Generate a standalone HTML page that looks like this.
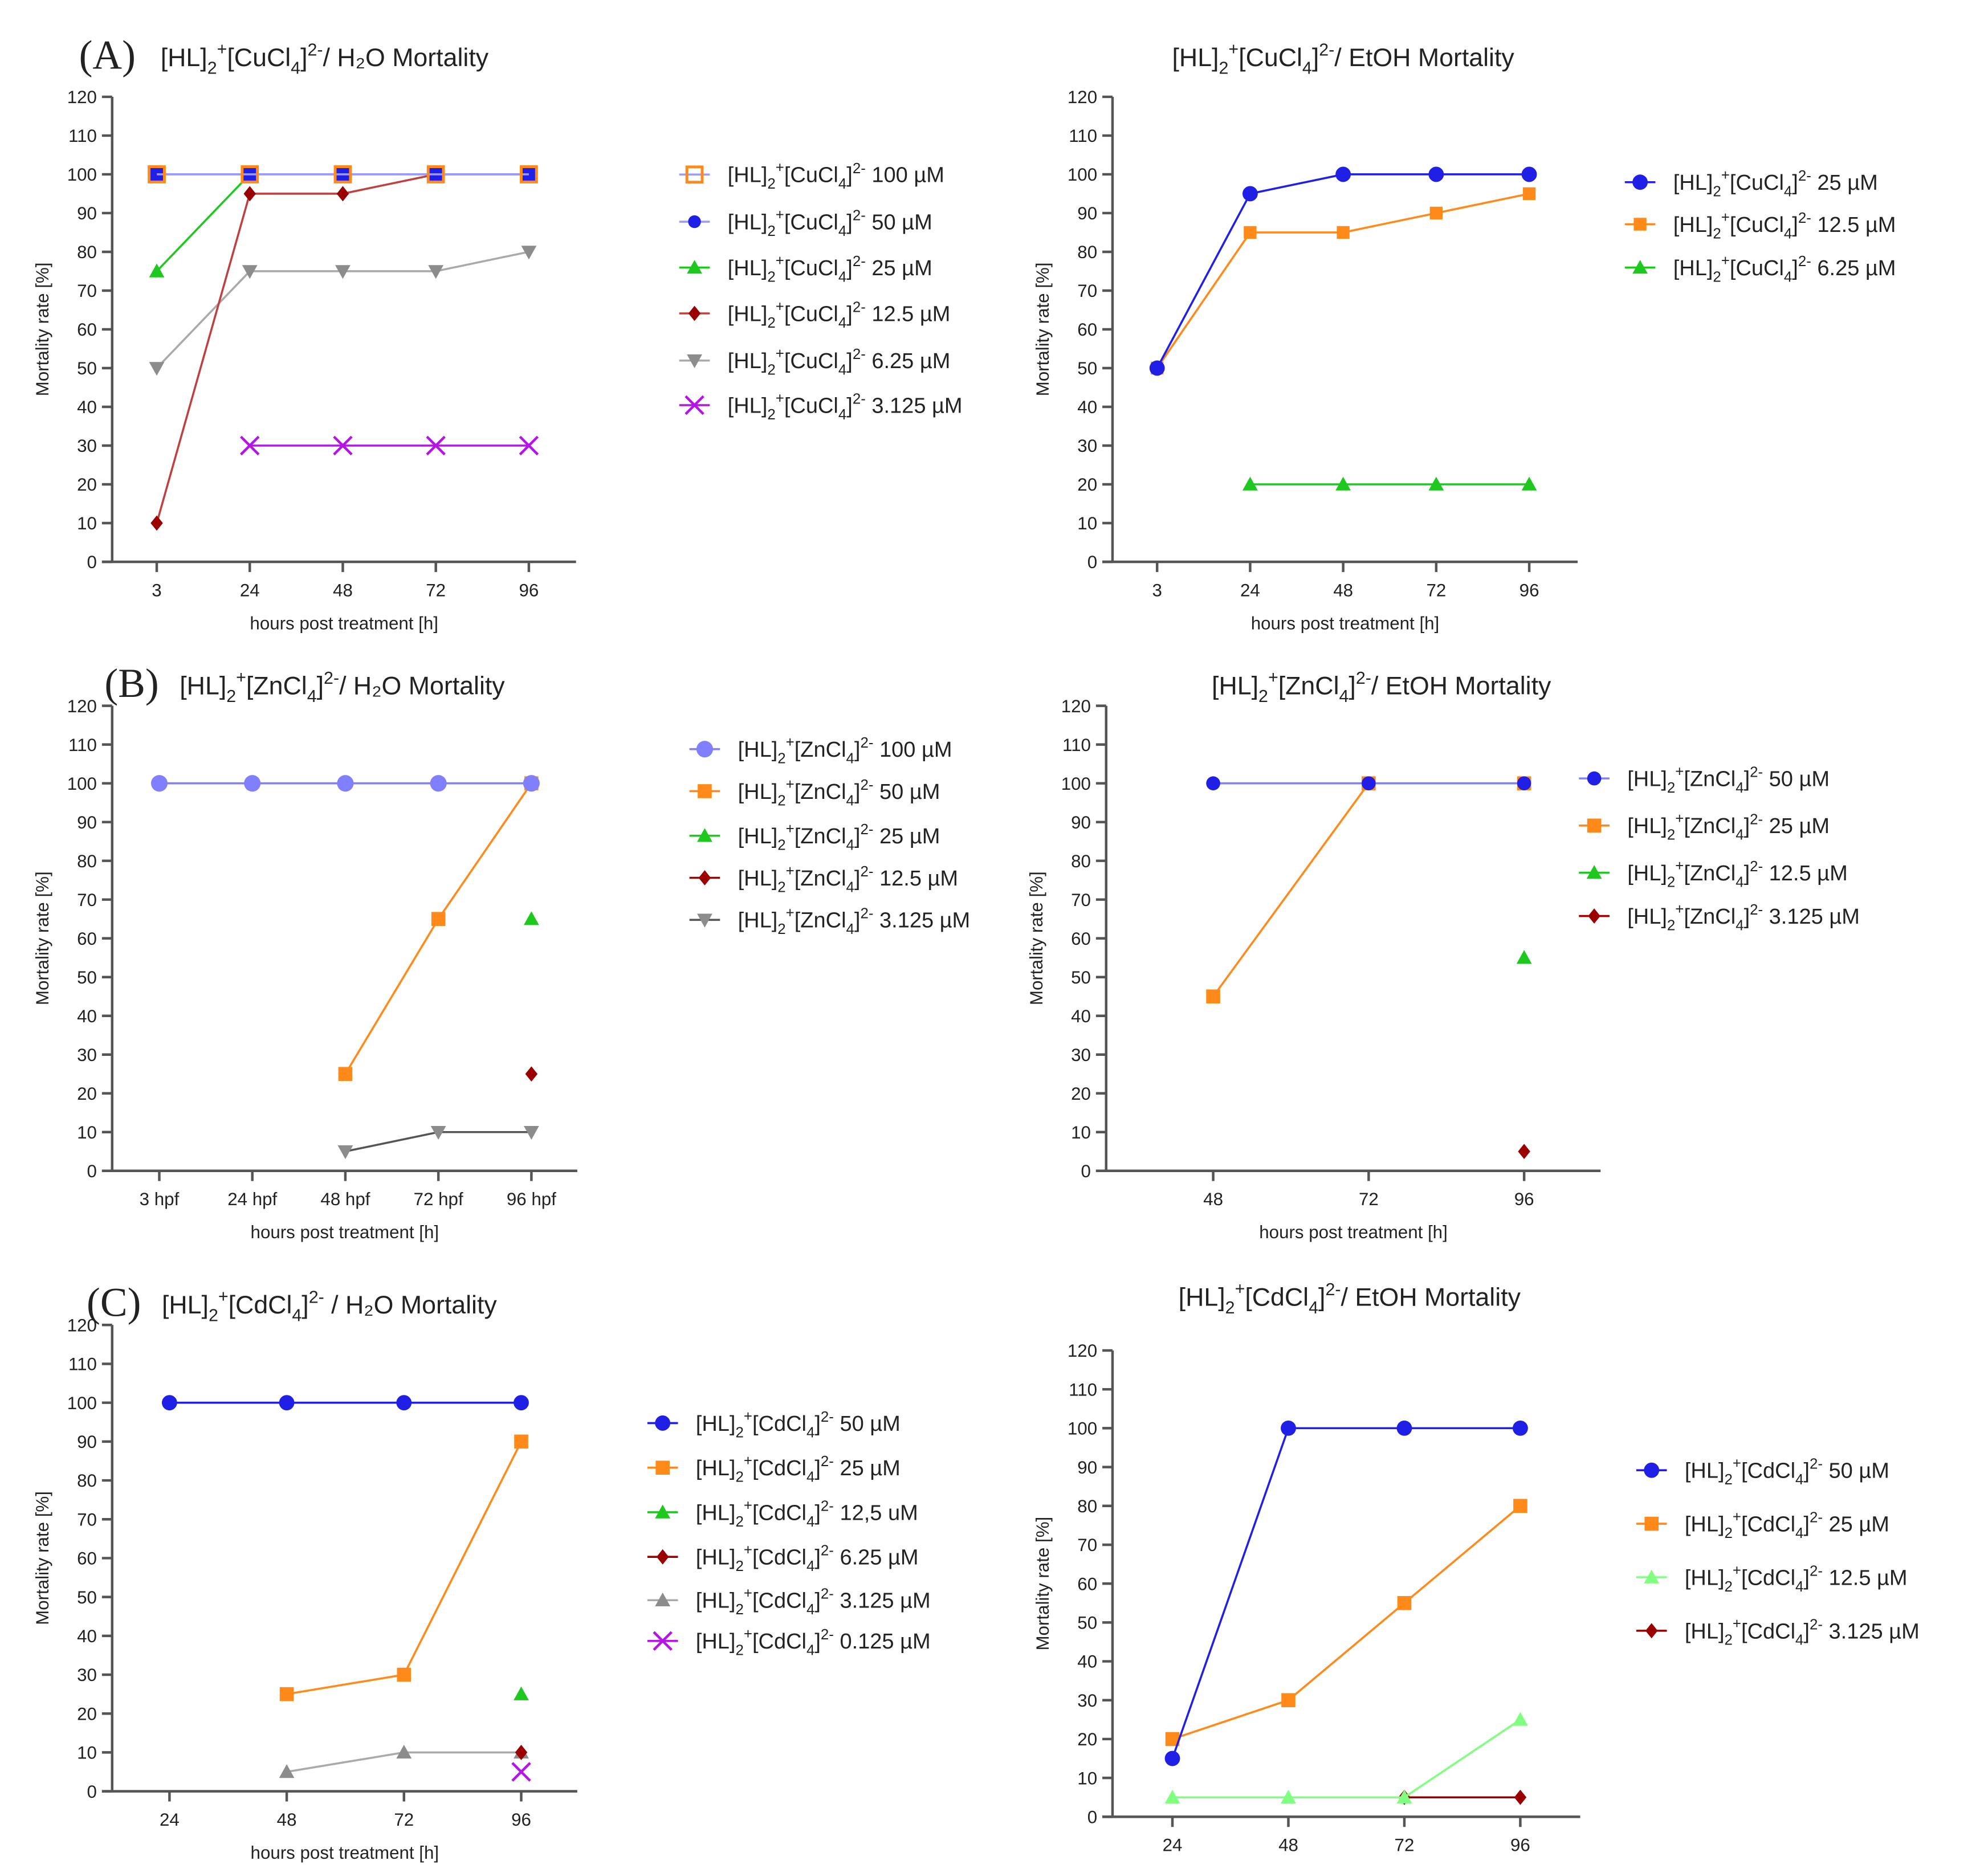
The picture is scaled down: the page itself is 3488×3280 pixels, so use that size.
<!DOCTYPE html>
<html><head><meta charset="utf-8"><style>
html,body{margin:0;padding:0;background:#fff}
svg{display:block}
text{fill:#222}
</style></head><body>
<svg id="fig" width="3488" height="3280" viewBox="0 0 1560 1467" preserveAspectRatio="none" xmlns="http://www.w3.org/2000/svg" font-family="Liberation Sans, sans-serif"></svg>
<script>
// ---- data arrays ----
const aL_cats=["3","24","48","72","96"];
const aL_100=[100,100,100,100,100];
const aL_50=[100,100,100,100,100];
const aL_25=[75,100,null,null,null];
const aL_12=[10,95,95,100,100];
const aL_6=[50,75,75,75,80];
const aL_3=[null,30,30,30,30];

const aR_cats=["3","24","48","72","96"];
const aR_25=[50,95,100,100,100];
const aR_12=[50,85,85,90,95];
const aR_6=[null,20,20,20,20];

const bL_cats=["3 hpf","24 hpf","48 hpf","72 hpf","96 hpf"];
const bL_100=[100,100,100,100,100];
const bL_50=[null,null,25,65,100];
const bL_25=[null,null,null,null,65];
const bL_12=[null,null,null,null,25];
const bL_3=[null,null,5,10,10];

const bR_cats=["48","72","96"];
const bR_50=[100,100,100];
const bR_25=[45,100,100];
const bR_12=[null,null,55];
const bR_3=[null,null,5];

const cL_cats=["24","48","72","96"];
const cL_50=[100,100,100,100];
const cL_25=[null,25,30,90];
const cL_12=[null,null,null,25];
const cL_6=[null,null,null,10];
const cL_3=[null,5,10,10];
const cL_01=[null,null,null,5];

const cR_cats=["24","48","72","96"];
const cR_50=[15,100,100,100];
const cR_25=[20,30,55,80];
const cR_12=[5,5,5,25];
const cR_3=[null,null,5,5];

const yTicks=[0,10,20,30,40,50,60,70,80,90,100,110,120];

const svg=document.getElementById('fig');
const NS='http://www.w3.org/2000/svg';
function el(tag,attrs,parent){const e=document.createElementNS(NS,tag);for(const k in attrs)e.setAttribute(k,attrs[k]);(parent||svg).appendChild(e);return e;}

function formula(parent,x,y,metal,suffix,size,anchor){
  const t=el('text',{x:x,y:y,'font-size':size,'text-anchor':anchor||'start'},parent);
  const s=size*0.68;
  const parts=[["[HL]",0,size],["2",size*0.3,s],["+",-size*0.75,s],["[CuCl".replace("Cu",metal),size*0.45,size],["4",size*0.3,s],["]",-size*0.3,size],["2-",-size*0.42,s],[suffix,size*0.42,size]];
  parts.forEach(p=>{const ts=el('tspan',{dy:p[1],'font-size':p[2]},t);ts.textContent=p[0];});
  return t;
}

function marker(g,type,x,y,color,sz){
  const s=sz||6;
  if(type==='circle')el('circle',{cx:x,cy:y,r:s,fill:color},g);
  else if(type==='square')el('rect',{x:x-s,y:y-s,width:2*s,height:2*s,fill:color},g);
  else if(type==='osquare')el('rect',{x:x-s,y:y-s,width:2*s,height:2*s,fill:'none',stroke:color,'stroke-width':2.2},g);
  else if(type==='tri')el('polygon',{points:`${x},${y-s} ${x-s},${y+s*0.8} ${x+s},${y+s*0.8}`,fill:color},g);
  else if(type==='dtri')el('polygon',{points:`${x},${y+s} ${x-s},${y-s*0.8} ${x+s},${y-s*0.8}`,fill:color},g);
  else if(type==='diamond')el('polygon',{points:`${x},${y-s} ${x+s*0.8},${y} ${x},${y+s} ${x-s*0.8},${y}`,fill:color},g);
  else if(type==='x'){el('line',{x1:x-s,y1:y-s,x2:x+s,y2:y+s,stroke:color,'stroke-width':2},g);el('line',{x1:x-s,y1:y+s,x2:x+s,y2:y-s,stroke:color,'stroke-width':2},g);}
}

function panel(p){
  const g=el('g',{});
  
  
  const yS=v=>p.y0-(v/120)*(p.y0-p.y120);
  const xS=i=>p.xs[0]+i*(p.xs[1]-p.xs[0]);
  const ax=el('g',{stroke:'#555','stroke-width':2},g);
  
  el('line',{x1:p.ax,y1:p.y120,x2:p.ax,y2:p.y0},ax);
  el('line',{x1:p.ax-8,y1:p.y0,x2:p.xend,y2:p.y0},ax);
  yTicks.forEach(v=>{
    el('line',{x1:p.ax-8,y1:yS(v),x2:p.ax,y2:yS(v)},ax);
    const t=el('text',{x:p.ax-12,y:yS(v)+5,'font-size':14,'text-anchor':'end'},g);
    
    t.textContent=v;
  });
  p.cats.forEach((c,i)=>{
    el('line',{x1:xS(i),y1:p.y0,x2:xS(i),y2:p.y0+8},ax);
    const t=el('text',{x:xS(i),y:p.y0+27,'font-size':14,'text-anchor':'middle'},g);
    
    t.textContent=c;
  });
  const yt=el('text',{x:0,y:0,'font-size':14,'text-anchor':'middle',transform:`translate(${p.ax-50},${(p.y0+p.y120)/2}) rotate(-90)`},g);
  
  yt.textContent='Mortality rate [%]';
  if(p.xtitle){
    const xt=el('text',{x:(p.ax+p.xend)/2,y:p.y0+53,'font-size':14,'text-anchor':'middle'},g);
    
    xt.textContent='hours post treatment [h]';
  }
  const tt=formula(g,p.tx,p.ty,p.metal,p.tsuf,20,p.tanchor);
  
  if(p.letter){
    const lt=el('text',{x:p.lx,y:p.ty+2,'font-size':32,style:'font-family:"Liberation Serif",serif'},g);
    
    lt.textContent=p.letter;
  }
  const sgs=p.series.map(()=>null);
  for(let si=p.series.length-1;si>=0;si--){
    const s=p.series[si];
    const sg=el('g',{},g);
    
    
    let pts=[];
    s.data.forEach((v,i)=>{if(v!==null)pts.push([xS(i),yS(v)]);});
    if(pts.length>1){const pl=el('polyline',{points:pts.map(q=>q.join(',')).join(' '),fill:'none',stroke:s.line||s.color,'stroke-width':1.6},sg);}
    pts.forEach(q=>marker(sg,s.pm||s.m,q[0],q[1],s.color,s.sz));
  }
  p.series.forEach((s,si)=>{
    const ly=p.leg.ys[si];
    const lg=el('g',{},g);
    
    
    el('line',{x1:p.leg.x-12,y1:ly,x2:p.leg.x+12,y2:ly,stroke:s.line||s.color,'stroke-width':1.6},lg);
    marker(lg,s.m,p.leg.x,ly,s.color,s.sz);
    formula(lg,p.leg.x+26,ly+6,p.metal,' '+s.label,17);
  });
}

const BL='#1f1fe6',OR='#ff8a1a',GR='#1ec81e',DR='#9b0000',GY='#8c8c8c',PU='#b414e6';
const yA=[137,174,210,246,283,318];
panel({name:'panel-a-h2o',cats:aL_cats,ax:88,xend:452,xs:[123,196],y0:441,y120:76,xtitle:true,metal:'Cu',tsuf:'/ H₂O Mortality',tx:126,ty:52,letter:'(A)',lx:62,
  leg:{x:545,ys:yA},series:[
  {label:'100 µM',data:aL_100,color:OR,m:'osquare',line:'#9a9aff',sz:6},
  {label:'50 µM',data:aL_50,color:BL,m:'circle',pm:'square',line:'#9a9aff',sz:5},
  {label:'25 µM',data:aL_25,color:GR,m:'tri',sz:6},
  {label:'12.5 µM',data:aL_12,color:DR,m:'diamond',line:'#c04040',sz:6},
  {label:'6.25 µM',data:aL_6,color:GY,m:'dtri',line:'#aaa',sz:6},
  {label:'3.125 µM',data:aL_3,color:PU,m:'x',sz:7}]});
panel({name:'panel-a-etoh',cats:aR_cats,ax:873,xend:1238,xs:[908,981],y0:441,y120:76,xtitle:true,metal:'Cu',tsuf:'/ EtOH Mortality',tx:1054,ty:52,tanchor:'middle',
  leg:{x:1287,ys:[143,176,210]},series:[
  {label:'25 µM',data:aR_25,color:BL,m:'circle',sz:6},
  {label:'12.5 µM',data:aR_12,color:OR,m:'square',sz:5},
  {label:'6.25 µM',data:aR_6,color:GR,m:'tri',sz:6}]});
panel({name:'panel-b-h2o',cats:bL_cats,ax:88,xend:453,xs:[125,198],y0:919,y120:554,xtitle:true,metal:'Zn',tsuf:'/ H₂O Mortality',tx:141,ty:545,letter:'(B)',lx:82,
  leg:{x:553,ys:[588,621,656,689,722]},series:[
  {label:'100 µM',data:bL_100,color:'#8080ff',m:'circle',sz:6.5},
  {label:'50 µM',data:bL_50,color:OR,m:'square',sz:5.5},
  {label:'25 µM',data:bL_25,color:GR,m:'tri',sz:6},
  {label:'12.5 µM',data:bL_12,color:DR,m:'diamond',sz:6},
  {label:'3.125 µM',data:bL_3,color:GY,m:'dtri',line:'#555',sz:6}]});
panel({name:'panel-b-etoh',cats:bR_cats,ax:868,xend:1256,xs:[952,1074],y0:919,y120:554,xtitle:true,metal:'Zn',tsuf:'/ EtOH Mortality',tx:1084,ty:545,tanchor:'middle',
  leg:{x:1251,ys:[611,648,685,719]},series:[
  {label:'50 µM',data:bR_50,color:BL,m:'circle',line:'#8080ff',sz:5.5},
  {label:'25 µM',data:bR_25,color:OR,m:'square',sz:5.5},
  {label:'12.5 µM',data:bR_12,color:GR,m:'tri',sz:6},
  {label:'3.125 µM',data:bR_3,color:DR,m:'diamond',sz:6}]});
panel({name:'panel-c-h2o',cats:cL_cats,ax:88,xend:453,xs:[133,225],y0:1406,y120:1040,xtitle:true,metal:'Cd',tsuf:' / H₂O Mortality',tx:127,ty:1031,letter:'(C)',lx:68,
  leg:{x:520,ys:[1117,1152,1187,1222,1256,1288]},series:[
  {label:'50 µM',data:cL_50,color:BL,m:'circle',sz:6},
  {label:'25 µM',data:cL_25,color:OR,m:'square',sz:5.5},
  {label:'12,5 uM',data:cL_12,color:GR,m:'tri',sz:6},
  {label:'6.25 µM',data:cL_6,color:DR,m:'diamond',sz:6},
  {label:'3.125 µM',data:cL_3,color:GY,m:'tri',line:'#aaa',sz:6},
  {label:'0.125 µM',data:cL_01,color:PU,m:'x',sz:7}]});
panel({name:'panel-c-etoh',cats:cR_cats,ax:873,xend:1240,xs:[920,1011],y0:1426,y120:1060,xtitle:false,metal:'Cd',tsuf:'/ EtOH Mortality',tx:1059,ty:1025,tanchor:'middle',
  leg:{x:1296,ys:[1154,1196,1238,1280]},series:[
  {label:'50 µM',data:cR_50,color:BL,m:'circle',sz:6},
  {label:'25 µM',data:cR_25,color:OR,m:'square',sz:5.5},
  {label:'12.5 µM',data:cR_12,color:'#80ff80',m:'tri',sz:6},
  {label:'3.125 µM',data:cR_3,color:DR,m:'diamond',sz:6}]});
</script>
</body></html>
